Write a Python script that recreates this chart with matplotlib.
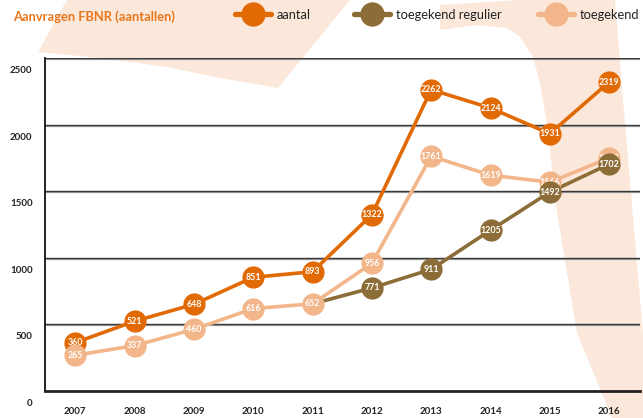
import numpy as np
import matplotlib
matplotlib.use("Agg")
import matplotlib.pyplot as plt
from matplotlib.patches import Polygon
from matplotlib.lines import Line2D
from matplotlib.transforms import ScaledTranslation

years = [2007, 2008, 2009, 2010, 2011, 2012, 2013, 2014, 2015, 2016]
aantal = [360, 521, 648, 851, 893, 1322, 2262, 2124, 1931, 2319]
toegekend = [265, 337, 460, 616, 652, 956, 1761, 1619, 1566, 1748]
regulier_years = [2011, 2012, 2013, 2014, 2015, 2016]
regulier = [652, 771, 911, 1205, 1492, 1702]
yticks = [0, 500, 1000, 1500, 2000, 2500]
title = "Aanvragen FBNR (aantallen)"
series_names = ["aantal", "toegekend regulier", "toegekend"]

C_AANTAL = "#e26a05"
C_REG = "#8c6c37"
C_TOE = "#f3b68a"
C_BG = "#fbe8da"
FONT = "Lato"

W, H = 643, 418
fig = plt.figure(figsize=(W / 100, H / 100), dpi=100)

# background decoration axes in pixel coords
bg = fig.add_axes([0, 0, 1, 1], zorder=0)
bg.set_xlim(0, W)
bg.set_ylim(H, 0)
bg.axis("off")
shape1 = [(67, 0), (350, 0), (278, 88), (220, 78), (167, 67), (100, 58), (38, 52)]
shape2 = [(440, 5), (520, 0), (615, 0), (623, 100), (643, 333), (643, 418),
          (612, 418), (577, 333), (555, 200), (548, 130), (540, 83), (533, 57),
          (520, 37), (507, 28), (477, 25), (440, 30)]
for s in (shape1, shape2):
    bg.add_patch(Polygon(s, closed=True, facecolor=C_BG, edgecolor="none"))

# title and legend
bg.text(13, 17, title, color="#e8761c", fontsize=9.3, fontweight="bold",
        family=FONT, va="center", ha="left")
leg_x = [253, 372, 556]
for cx, name, col in zip(leg_x, series_names, [C_AANTAL, C_REG, C_TOE]):
    bg.add_line(Line2D([cx - 18, cx + 18], [14, 14], color=col, lw=3.8,
                       solid_capstyle="round"))
    bg.add_line(Line2D([cx], [14], marker="o", markersize=17.5, color=col,
                       markeredgewidth=0))
    bg.text(cx + 24, 15, name, fontsize=9.3, family=FONT, color="#222222",
            va="center", ha="left")

# main axes
x0, x1 = 45, 640
ytop, ybot = 58, 390.5
ax = fig.add_axes([x0 / W, 1 - ybot / H, (x1 - x0) / W, (ybot - ytop) / H], zorder=1)
ax.set_facecolor("none")
ax.set_ylim(0, 2500)
ax.set_xlim(2006.49, 2016.52)
for sp in ["top", "right"]:
    ax.spines[sp].set_visible(False)
ax.spines["left"].set_linewidth(1.3)
ax.spines["bottom"].set_linewidth(2.0)
ax.spines["left"].set_color("#111111")
ax.spines["bottom"].set_color("#222222")
shadow = ScaledTranslation(0, -1.3 / 100, fig.dpi_scale_trans)
for v in yticks[1:]:
    ax.axhline(v, color="#3a3a3a", lw=1.0, zorder=1.1)
    ax.plot([0, 1], [v, v], color="#a0a0a0", lw=0.9, zorder=1,
            transform=ax.get_yaxis_transform() + shadow)

ax.set_yticks(yticks)
ax.set_yticklabels([str(v) for v in yticks], fontsize=7, family=FONT,
                   fontweight="bold", color="#222222")
ax.set_xticks(years)
ax.set_xticklabels([str(y) for y in years], fontsize=7, family=FONT,
                   fontweight="bold", color="#222222")
ax.tick_params(axis="both", length=0)
ax.tick_params(axis="y", pad=9)
ax.tick_params(axis="x", pad=12)
off = ScaledTranslation(0, -8.5 / 72, fig.dpi_scale_trans)
for lab in ax.get_yticklabels():
    lab.set_transform(lab.get_transform() + off)

MS = 16.0
LW = 2.6


def draw(xs, ys, col, zline, zmark, marker_from=0):
    ax.plot(xs, ys, color=col, lw=LW, zorder=zline, solid_capstyle="round")
    ax.plot(xs[marker_from:], ys[marker_from:], ls="none", marker="o",
            markersize=MS, color=col, markeredgewidth=0, zorder=zmark)
    for x, y in zip(xs[marker_from:], ys[marker_from:]):
        ax.text(x, y, str(y), color="white", fontsize=6.4, fontweight="bold",
                family=FONT, ha="center", va="center", zorder=zmark + 0.1)


draw(years, aantal, C_AANTAL, 3, 3.5)
draw(regulier_years, regulier, C_REG, 4.5, 7, marker_from=1)
draw(years, toegekend, C_TOE, 5, 5.5)

fig.savefig("out.png", dpi=100)
